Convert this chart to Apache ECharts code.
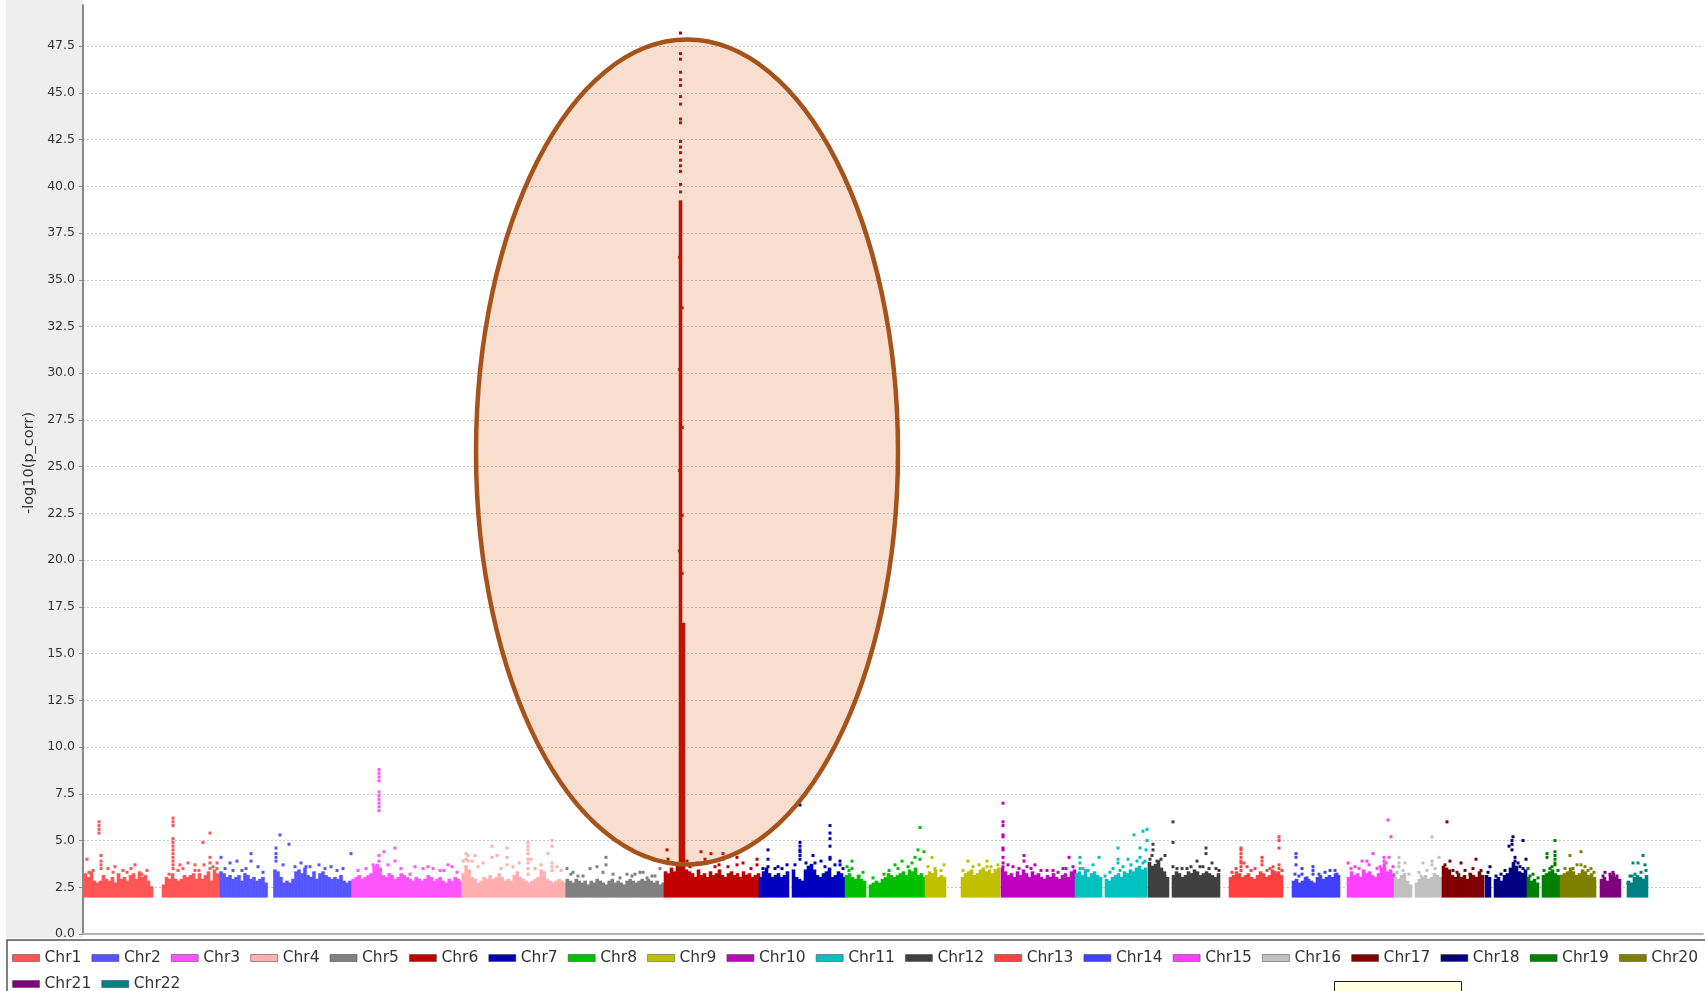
<!DOCTYPE html>
<html><head><meta charset="utf-8">
<script src="https://cdn.jsdelivr.net/npm/echarts@6/dist/echarts.min.js"></script>
<style>html,body{margin:0;padding:0;background:#fff}#c{width:1705px;height:991px}</style>
</head><body><div id="c"></div>
<script>
// ---- data ----
const chrNames = ['Chr1','Chr2','Chr3','Chr4','Chr5','Chr6','Chr7','Chr8','Chr9','Chr10','Chr11','Chr12','Chr13','Chr14','Chr15','Chr16','Chr17','Chr18','Chr19','Chr20','Chr21','Chr22'];
const chrColors = ['#FF5555','#5555FF','#FF55FF','#FFAFAF','#808080','#C00000','#0000C0','#00C000','#C0C000','#C000C0','#00C0C0','#404040','#FF4040','#4040FF','#FF40FF','#C0C0C0','#800000','#000080','#008000','#808000','#800080','#008080'];
// cumulative genome offset of each chromosome (position units)
const chrStarts = [1,136.5,268.7,378.7,482.7,581,676,762,842,918,992,1065,1146,1209,1264,1311,1359,1402,1444,1477,1517,1544];
const SLOT = 3;          // position units per dense bin
const BASE = 1.95;       // lowest plotted -log10(p)
// upper edge of the dense cloud of SNPs, one value per bin (null = no SNPs)
const chrBandTops = [
 [3.2,3.0,3.3,2.8,2.7,2.8,3.1,2.9,2.8,3.0,2.7,3.2,2.9,3.0,2.8,3.1,3.2,2.9,3.3,3.0,3.1,2.8,2.5,null,null,null,2.6,3.0,2.9,3.2,2.9,2.8,2.9,3.1,3.0,3.1,3.2,2.9,3.2,2.9,3.1,3.3,2.8,3.4,3.2],
 [3.3,3.2,3.0,3.1,2.9,3.0,3.1,2.8,3.2,3.1,2.9,3.0,2.8,2.9,3.0,2.7,null,null,3.4,3.3,3.0,2.7,2.8,2.7,2.9,3.3,3.4,3.2,3.5,3.1,3.0,3.3,2.9,3.2,3.3,3.1,3.0,2.9,3.0,2.9,3.1,2.8,2.7,2.8],
 [2.9,3.0,3.1,2.9,3.0,3.1,3.2,3.6,3.7,3.5,3.1,3.0,3.2,3.1,2.9,3.0,3.2,3.1,3.0,2.9,2.8,3.0,2.9,2.8,2.9,3.1,3.0,2.8,2.9,3.0,2.8,2.7,2.9,2.8,3.0,2.9,2.8],
 [3.2,3.6,3.4,3.0,2.9,2.7,2.8,3.0,2.9,3.1,2.9,3.0,3.2,3.0,2.8,2.9,2.8,3.1,3.3,3.0,2.9,2.8,2.7,2.8,2.9,3.0,3.4,3.3,2.9,2.8,2.7,2.8,2.9,2.8,2.7],
 [2.9,2.8,2.7,2.9,2.8,2.7,2.8,2.6,2.8,2.7,2.9,2.8,2.7,2.6,2.8,2.9,2.7,2.8,2.7,2.6,2.8,2.9,2.8,2.7,2.8,2.9,2.8,2.9,2.8,2.7,2.8,2.6,2.7],
 [3.3,3.2,3.5,3.3,3.8,39.2,16.6,3.4,3.3,3.2,3.0,3.4,3.1,3.2,3.0,3.3,3.1,3.2,3.4,3.1,3.0,3.2,3.3,3.1,3.2,3.0,3.3,3.1,3.2,3.0,3.1,3.2],
 [3.0,3.3,3.5,3.2,3.0,3.1,3.2,3.0,3.1,3.3,null,3.4,3.0,2.9,2.8,3.4,3.6,3.7,3.4,3.1,3.0,3.2,3.3,3.5,3.0,3.1,3.3,3.2,3.0],
 [3.1,3.2,3.0,2.9,3.1,2.9,2.8,null,2.6,2.7,2.8,2.7,2.9,3.0,3.2,3.1,3.0,3.1,3.2,3.3,3.1,3.4,3.3,3.5,3.1,3.2,3.0],
 [3.1,3.3,3.2,3.4,3.0,3.1,3.0,null,null,null,null,null,3.0,3.2,3.3,3.4,3.1,3.2,3.4,3.5,3.3,3.4,3.2,3.3,3.5],
 [3.5,3.3,3.1,3.2,3.0,3.3,3.1,3.4,3.2,3.0,3.3,3.1,3.2,3.0,2.9,3.1,3.0,3.2,3.0,2.9,3.1,3.2,3.0,3.3,3.4],
 [3.2,3.3,3.1,3.4,3.0,3.2,3.3,3.1,3.0,null,2.9,2.8,3.0,3.1,3.2,3.0,3.3,3.2,3.4,3.3,3.5,3.6,3.4,3.5],
 [3.8,3.6,3.7,3.9,3.5,3.3,3.0,null,3.1,3.3,3.2,3.0,3.1,3.3,3.2,3.4,3.3,3.1,3.2,3.3,3.2,3.1,3.0,3.2],
 [3.0,3.1,3.3,3.2,3.0,3.1,3.2,3.0,2.9,3.1,3.3,3.2,3.0,3.1,3.4,3.2,3.3,3.1],
 [2.8,2.9,2.7,2.8,3.0,2.9,2.8,2.7,3.0,3.1,2.9,3.0,3.1,3.0,3.2,3.1],
 [3.0,3.3,3.1,3.2,3.0,3.4,3.2,3.3,3.1,3.0,3.2,3.5,3.6,3.3,3.4,3.2],
 [3.0,2.9,3.1,3.2,2.8,2.6,null,2.7,2.9,3.0,3.1,2.9,3.0,3.2,3.1,3.0],
 [3.6,3.5,3.4,3.1,3.0,3.2,3.0,3.1,2.9,3.2,3.1,3.0,3.3,3.1],
 [3.1,3.0,null,2.9,3.0,2.8,3.1,3.2,3.5,3.8,3.6,3.3,3.2,3.4],
 [3.0,2.8,2.9,2.7,null,3.1,3.2,3.3,3.4,3.2,3.1],
 [3.1,3.2,3.3,3.5,3.3,3.1,3.2,3.4,3.3,3.1,3.2,3.0],
 [2.9,3.0,2.8,3.1,3.2,3.0,2.9],
 [2.8,2.7,3.0,3.1,3.0,2.9,3.1]
];
// individual SNPs above the dense cloud: [position, -log10(p)]
const chrDots = [
 [[4,4.0],[6,3.3],[10,3.4],[16,6.0],[16,5.8],[16,5.6],[16,5.4],[18,4.2],[18,3.9],[18,3.7],[18,3.5],[25,3.5],[30,3.3],[32,3.6],[40,3.4],[44,3.3],[48,3.5],[52,3.7],[59,3.2],[64,3.4],[86,3.2],[90,6.2],[90,6.0],[90,5.8],[90,5.1],[90,4.9],[90,4.7],[90,4.5],[90,4.3],[90,4.1],[90,3.9],[90,3.7],[90,3.5],[95,3.4],[97,3.7],[100,3.5],[105,3.8],[112,3.7],[112,3.4],[116,3.4],[120,4.9],[121,3.7],[127,5.4],[127,4.1],[127,3.8],[127,3.5],[130,3.6],[134,3.8],[134,3.5]],
 [[138,4.1],[142,3.5],[147,3.8],[150,3.4],[154,3.9],[159,3.4],[163,3.5],[168,4.3],[168,3.9],[175,3.6],[180,3.3],[193,4.6],[193,4.3],[193,4.1],[193,3.9],[197,5.3],[200,3.7],[206,4.8],[212,3.6],[218,3.8],[223,3.6],[227,3.6],[236,3.7],[242,3.5],[248,3.6],[254,3.4],[260,3.5],[268,4.3]],
 [[275,3.4],[283,3.5],[290,3.7],[296,8.8],[296,8.6],[296,8.4],[296,8.2],[296,7.6],[296,7.4],[296,7.2],[296,7.0],[296,6.8],[296,6.6],[296,4.2],[296,3.9],[301,4.4],[305,3.7],[312,4.6],[312,3.9],[318,3.5],[327,3.2],[332,3.6],[340,3.5],[345,3.6],[350,3.5],[357,3.4],[361,3.4],[365,3.7],[369,3.6],[374,3.3]],
 [[380,3.9],[383,4.3],[383,4.0],[383,3.6],[385,4.2],[385,3.9],[389,3.9],[392,4.2],[395,3.6],[400,3.8],[409,4.7],[409,4.1],[414,4.2],[418,3.5],[424,4.6],[424,4.1],[424,3.7],[430,3.6],[436,3.8],[445,4.9],[445,4.7],[445,4.5],[445,4.3],[445,4.0],[445,3.8],[445,3.5],[445,3.2],[448,4.0],[452,3.5],[458,3.7],[465,4.3],[469,5.0],[469,4.7],[469,3.8],[469,3.6],[469,3.4],[474,3.6],[478,3.4]],
 [[484,3.5],[488,3.2],[490,3.3],[495,3.1],[500,3.1],[507,3.5],[514,3.6],[520,3.3],[523,4.1],[523,3.7],[530,3.2],[537,3.0],[544,3.2],[549,3.1],[552,3.2],[557,3.3],[560,3.3],[564,3.0],[569,3.1],[572,3.1],[577,3.5]],
 [[597.5,48.2],[597.5,47.1],[597.5,46.8],[597.5,46.1],[597.5,45.7],[597.5,45.4],[597.5,44.8],[597.5,44.4],[597.5,43.6],[597.5,43.4],[597.5,42.4],[597.5,42.1],[597.5,41.8],[597.5,41.4],[597.5,41.1],[597.5,40.8],[597.5,40.1],[597.5,39.7],
  [596.6,36.2],[596.6,30.2],[596.6,24.8],[596.6,20.5],[599.2,33.5],[599.2,27.1],[599.2,22.4],[599.2,19.3],
  [584,4.5],[585,4.0],[590,3.8],[604,3.9],[607,3.6],[610,3.7],[614,3.8],[618,4.4],[622,4.0],[628,4.3],[632,3.6],[636,3.7],[640,4.3],[640,4.0],[645,3.6],[648,4.2],[654,4.1],[654,3.7],[660,3.8],[664,3.1],[668,3.5],[674,4.0],[674,3.7]],
 [[680,3.5],[685,4.5],[685,4.0],[685,3.6],[692,3.5],[695,3.6],[699,3.5],[704,3.7],[712,3.7],[717,6.9],[717,4.9],[717,4.7],[717,4.5],[717,4.4],[717,4.2],[717,4.0],[723,3.8],[730,4.2],[732,3.8],[738,3.9],[742,3.6],[747,5.8],[747,5.4],[747,5.1],[747,4.7],[747,4.1],[747,4.0],[752,3.7],[757,3.9],[757,3.7],[760,3.5]],
 [[764,3.6],[766,3.4],[769,3.9],[769,3.5],[776,3.1],[780,3.3],[790,3.0],[801,3.2],[806,3.4],[812,3.7],[815,3.5],[819,3.9],[825,3.6],[829,3.8],[832,4.1],[835,4.5],[837,5.7],[837,4.0],[841,4.4]],
 [[845,3.6],[849,4.1],[852,3.5],[858,3.4],[861,3.7],[880,3.4],[885,3.9],[890,3.6],[896,3.7],[904,3.9],[904,3.6],[908,3.6],[912,3.4],[915,3.7]],
 [[920,7.0],[920,6.0],[920,5.8],[920,5.3],[920,5.2],[920,4.6],[920,4.5],[920,4.1],[920,3.8],[920,3.6],[925,3.7],[930,3.6],[936,3.5],[941,4.2],[941,3.9],[944,3.6],[948,3.5],[952,3.7],[958,3.4],[964,3.4],[970,3.4],[975,3.3],[980,3.5],[983,3.5],[986,4.1],[990,3.6]],
 [[997,4.1],[997,3.8],[997,3.5],[1000,3.5],[1005,3.4],[1010,3.7],[1016,4.1],[1022,3.1],[1027,3.3],[1030,3.5],[1035,4.6],[1035,4.0],[1035,3.8],[1037,3.4],[1040,3.6],[1045,4.0],[1048,3.7],[1051,5.3],[1054,3.9],[1057,4.6],[1057,4.1],[1060,5.5],[1060,3.8],[1062,3.9],[1063,4.5],[1064,5.6],[1064,5.0]],
 [[1067,4.0],[1069,4.2],[1070,4.8],[1070,4.5],[1074,3.9],[1078,4.0],[1082,4.2],[1090,6.0],[1090,4.9],[1090,3.6],[1094,3.5],[1099,3.5],[1104,3.5],[1108,3.6],[1114,3.9],[1117,3.6],[1120,3.6],[1123,4.6],[1123,4.3],[1126,3.5],[1129,3.8],[1133,3.5],[1136,3.4]],
 [[1149,3.3],[1153,3.5],[1158,4.6],[1158,4.5],[1158,4.3],[1158,4.1],[1158,3.9],[1158,3.8],[1158,3.6],[1158,3.4],[1161,3.8],[1164,3.6],[1168,3.4],[1172,3.5],[1179,4.1],[1179,3.9],[1179,3.7],[1184,3.4],[1187,3.5],[1190,3.6],[1192,3.3],[1196,5.2],[1196,5.0],[1196,4.6],[1196,3.7],[1196,3.5],[1199,3.4]],
 [[1212,3.2],[1213,4.3],[1213,4.1],[1213,3.7],[1216,3.1],[1219,3.5],[1219,3.2],[1224,3.0],[1230,3.6],[1230,3.4],[1230,3.2],[1236,3.2],[1242,3.3],[1247,3.4],[1252,3.4],[1254,3.2]],
 [[1265,3.8],[1268,3.5],[1272,3.6],[1276,3.5],[1279,3.9],[1284,3.9],[1286,3.7],[1290,4.3],[1294,3.5],[1297,3.6],[1301,4.1],[1301,3.9],[1301,3.7],[1303,3.8],[1305,6.1],[1306,4.1],[1308,5.2],[1310,3.6]],
 [[1314,3.3],[1316,4.1],[1316,3.8],[1316,3.6],[1320,3.4],[1322,3.8],[1326,3.2],[1336,3.3],[1338,3.1],[1340,3.8],[1344,3.4],[1349,5.2],[1349,3.9],[1349,3.7],[1352,3.5],[1356,4.1]],
 [[1362,3.7],[1364,6.0],[1367,3.9],[1370,3.4],[1374,3.3],[1378,3.8],[1382,3.4],[1387,3.2],[1390,3.5],[1393,4.0],[1398,3.4]],
 [[1405,3.3],[1407,3.6],[1413,3.1],[1418,3.2],[1422,3.4],[1426,4.7],[1429,5.0],[1429,4.8],[1429,4.5],[1430,5.2],[1432,4.1],[1432,3.9],[1435,3.8],[1437,3.6],[1439,3.2],[1440,5.0],[1440,3.5],[1443,4.0]],
 [[1445,3.5],[1447,3.1],[1450,3.2],[1455,3.0],[1461,3.4],[1464,4.3],[1464,4.1],[1467,3.5],[1469,3.6],[1472,5.0],[1472,4.4],[1472,4.2],[1472,4.0],[1472,3.8],[1472,3.7],[1475,3.4]],
 [[1479,3.1],[1482,3.5],[1487,4.2],[1490,3.5],[1494,3.7],[1498,4.4],[1498,3.7],[1502,3.6],[1505,3.4],[1508,3.5],[1511,3.3]],
 [[1520,3.1],[1522,3.3],[1527,3.2],[1530,3.3],[1534,3.1]],
 [[1545,2.7],[1547,3.1],[1549,3.1],[1550,3.8],[1552,3.2],[1555,3.8],[1558,3.3],[1560,4.2],[1562,3.7],[1563,3.4]]
];
const yAxisName = '-log10(p_corr)';
const xExtent = [0, 1620];
const yExtent = [0, 49.7];
const yStep = 2.5;
// highlighted region (annotation): x extent in position units, y extent in -log10(p)
const highlight = {x0: 393, x1: 815, y0: 3.72, y1: 47.85};

// ---- chart ----
function buildData(i) {
  const d = [];
  chrBandTops[i].forEach((v, k) => { if (v != null) d.push([chrStarts[i] + SLOT / 2 + SLOT * k, v, 0]); });
  chrDots[i].forEach(p => d.push([p[0], p[1], 1]));
  return d;
}
function renderItem(params, api) {
  const x = api.value(0), y = api.value(1), kind = api.value(2);
  const color = api.visual('color');
  if (kind === 0) {
    const a = api.coord([x - SLOT / 2, y]);
    const b = api.coord([x + SLOT / 2, BASE]);
    return {type: 'rect', shape: {x: a[0] - 0.3, y: a[1] - 1, width: b[0] - a[0] + 0.6, height: b[1] - a[1] + 1}, style: {fill: color}};
  }
  const p = api.coord([x, y]);
  return {type: 'rect', shape: {x: p[0] - 1.5, y: p[1] - 1.5, width: 3, height: 3}, style: {fill: color}};
}
const FONT = 'DejaVu Sans';
const chart = echarts.init(document.getElementById('c'), null, {renderer: 'canvas'});
chart.setOption({
  backgroundColor: '#ffffff',
  animation: false,
  textStyle: {fontFamily: FONT},
  grid: {left: 83, right: 2, top: 5, bottom: 57, containLabel: false},
  xAxis: {type: 'value', min: xExtent[0], max: xExtent[1],
    axisLine: {show: true, onZero: false, lineStyle: {color: '#b4b4b4', width: 2}},
    axisTick: {show: false}, axisLabel: {show: false}, splitLine: {show: false}},
  yAxis: {type: 'value', min: yExtent[0], max: yExtent[1], interval: yStep,
    name: yAxisName, nameLocation: 'middle', nameGap: 44,
    nameTextStyle: {fontSize: 14.5, color: '#333', fontFamily: FONT, padding: [0, 0, 0, 13]},
    axisLine: {show: true, lineStyle: {color: '#888888', width: 2}},
    axisTick: {show: true, length: 4, lineStyle: {color: '#888888'}},
    axisLabel: {fontSize: 12.5, color: '#333', margin: 8, fontFamily: FONT, showMaxLabel: false,
      formatter: v => v.toFixed(1)},
    splitLine: {show: true, showMaxLine: false, lineStyle: {color: '#c6c6c6', type: [2, 2], width: 1}}},
  legend: {show: true, left: 12, right: 0, top: 950, padding: 0, itemGap: 10, itemWidth: 27, itemHeight: 7,
    icon: 'rect', selectedMode: false, data: chrNames,
    itemStyle: {borderColor: 'rgba(60,60,60,0.5)', borderWidth: 1},
    textStyle: {fontSize: 15.5, color: '#333', lineHeight: 14, fontFamily: FONT}},
  series: chrNames.map((n, i) => ({
    type: 'custom', name: n, renderItem: renderItem, clip: true,
    encode: {x: 0, y: 1}, itemStyle: {color: chrColors[i]}, data: buildData(i)
  }))
});
// annotation ellipse + frame pieces
const pTop = chart.convertToPixel({gridIndex: 0}, [(highlight.x0 + highlight.x1) / 2, highlight.y1]);
const pBot = chart.convertToPixel({gridIndex: 0}, [(highlight.x0 + highlight.x1) / 2, highlight.y0]);
const pL = chart.convertToPixel({gridIndex: 0}, [highlight.x0, (highlight.y0 + highlight.y1) / 2]);
const pR = chart.convertToPixel({gridIndex: 0}, [highlight.x1, (highlight.y0 + highlight.y1) / 2]);
chart.setOption({
  graphic: [
    {type: 'rect', z: -1, silent: true, shape: {x: 6, y: 0, width: 77, height: 938}, style: {fill: '#eeeeee'}},
    {type: 'rect', z: -1, silent: true, shape: {x: 7, y: 940, width: 1720, height: 80}, style: {fill: '#ffffff', stroke: '#555555', lineWidth: 1.5}},
    {type: 'ellipse', z: 100, silent: true,
      shape: {cx: (pL[0] + pR[0]) / 2, cy: (pTop[1] + pBot[1]) / 2, rx: (pR[0] - pL[0]) / 2, ry: (pBot[1] - pTop[1]) / 2},
      style: {fill: 'rgba(215,90,10,0.2)', stroke: '#A5531B', lineWidth: 4.5}},
    {type: 'rect', z: 100, silent: true, shape: {x: 1334.5, y: 981.5, width: 127, height: 20}, style: {fill: '#ffffe1', stroke: '#222222', lineWidth: 1}}
  ]
});
</script>
</body></html>
